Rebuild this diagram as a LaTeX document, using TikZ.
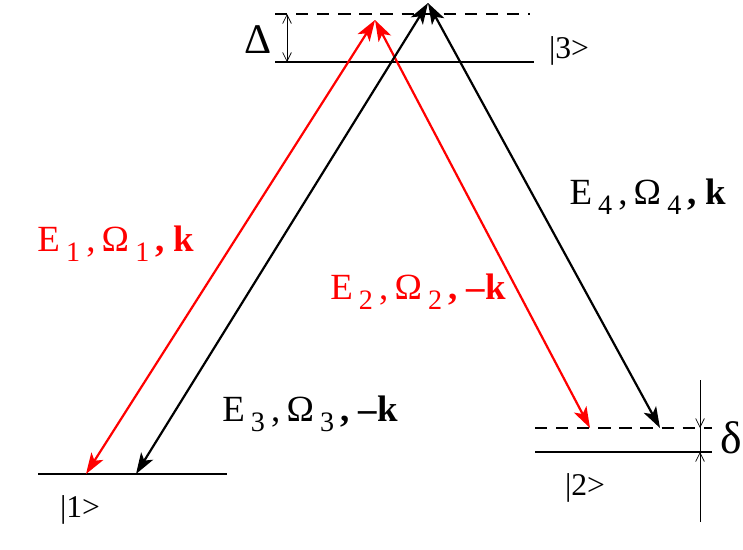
\documentclass[tikz,border=0pt]{standalone}
\usepackage{fontspec}
\setmainfont{Liberation Serif}
\usetikzlibrary{arrows.meta}
\tikzset{
  level/.style={line width=1.3pt},
  virtual/.style={line width=1.3pt, dash pattern=on 7pt off 5pt},
  beam/.style={line width=1.25pt, {Stealth[length=12pt,width=8pt,inset=3pt]}-{Stealth[length=12pt,width=8pt,inset=3pt]}},
  detuning/.style={line width=0.4pt},
  fieldlabel/.style={font=\fontsize{21}{25}\selectfont},
  ketlabel/.style={font=\fontsize{18}{21}\selectfont}
}
\newcommand{\field}[2]{E\,\raisebox{-0.6ex}{\fontsize{16}{19}\selectfont #1}\,,\,Ω\,\raisebox{-0.6ex}{\fontsize{16}{19}\selectfont #1}\,\textbf{,} \textbf{#2k}}
\begin{document}
\begin{tikzpicture}[x=0.02cm,y=-0.02cm]
            \useasboundingbox (0,0) rectangle (743,549);
            % levels
            \coordinate (ThreeL) at (275,62);
            \coordinate (ThreeR) at (534,62);
            \coordinate (VirtL) at (275,14);
            \coordinate (VirtR) at (530,14);
            \coordinate (OneL) at (38,474);
            \coordinate (OneR) at (227,474);
            \coordinate (TwoL) at (535,452);
            \coordinate (TwoR) at (712,452);
            \coordinate (ShiftL) at (535,428);
            \coordinate (ShiftR) at (712,428);
            \draw[level] (ThreeL) -- (ThreeR);
            \draw[virtual] (VirtL) -- (VirtR);
            \draw[level] (OneL) -- (OneR);
            \draw[level] (TwoL) -- (TwoR);
            \draw[virtual] (ShiftL) -- (ShiftR);
            \node[ketlabel] (KetThree) at (569,51) {|3>};
            \node[ketlabel] (KetOne) at (80,510) {|1>};
            \node[ketlabel] (KetTwo) at (585,488) {|2>};
            % detunings
            \coordinate (DeltaTop) at (287,14);
            \coordinate (DeltaBot) at (287,62);
            \draw[detuning, {Straight Barb[length=5pt,width=5pt]}-{Straight Barb[length=5pt,width=5pt]}] (DeltaTop) -- (DeltaBot);
            \node[font=\fontsize{24}{28}\selectfont] (Delta) at (258,40) {Δ};
            \coordinate (SmallTop) at (700,380);
            \coordinate (SmallBot) at (700,522);
            \coordinate (SmallA) at (700,428);
            \coordinate (SmallB) at (700,452);
            \draw[detuning] (SmallTop) -- (SmallBot);
            \draw[detuning, -{Straight Barb[length=5pt,width=5pt]}] (SmallTop) -- (SmallA);
            \draw[detuning, -{Straight Barb[length=5pt,width=5pt]}] (SmallBot) -- (SmallB);
            \node[font=\fontsize{26}{30}\selectfont] (delta) at (731,438) {δ};
            % beams
            \coordinate (RedApex) at (375,20);
            \coordinate (BlackApex) at (428,3);
            \coordinate (RedOne) at (86,474);
            \coordinate (BlackOne) at (136,474);
            \coordinate (RedTwo) at (590,428);
            \coordinate (BlackTwo) at (660,428);
            \draw[beam, red] (RedOne) -- (RedApex);
            \draw[beam, red] (RedTwo) -- (RedApex);
            \draw[beam] (BlackOne) -- (BlackApex);
            \draw[beam] (BlackTwo) -- (BlackApex);
            \node[fieldlabel, red] (FieldOne) at (116,244) {\field{1}{}};
            \node[fieldlabel, red] (FieldTwo) at (418,292) {\field{2}{--}};
            \node[fieldlabel] (FieldThree) at (310,414) {\field{3}{--}};
            \node[fieldlabel] (FieldFour) at (648,197) {\field{4}{}};
        \end{tikzpicture}
\end{document}
